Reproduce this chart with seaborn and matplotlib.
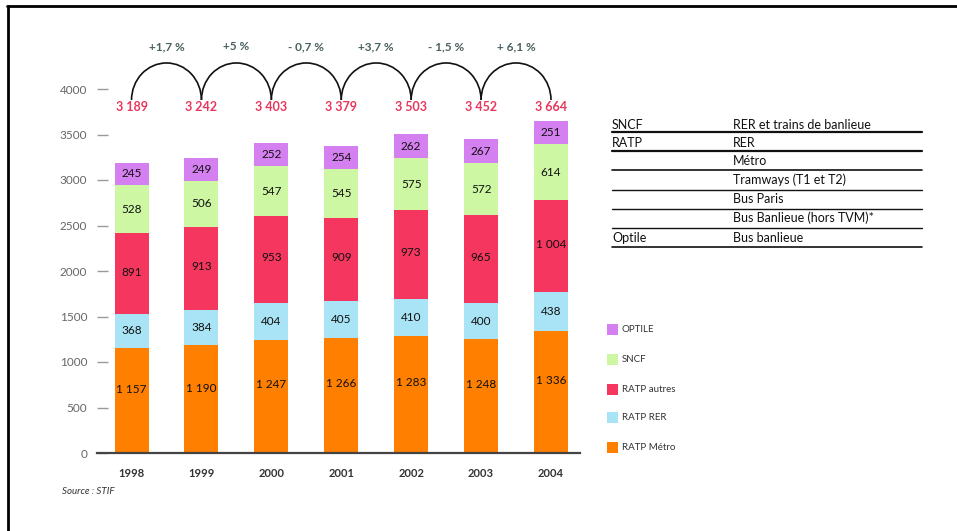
import matplotlib
matplotlib.use("Agg")
import matplotlib.pyplot as plt
import seaborn as sns
import pandas as pd
import numpy as np
from matplotlib.patches import Arc, Rectangle
from matplotlib.lines import Line2D

# ---------------- data ----------------
years = ["1998", "1999", "2000", "2001", "2002", "2003", "2004"]
ratp_metro = [1157, 1190, 1247, 1266, 1283, 1248, 1336]
ratp_rer = [368, 384, 404, 405, 410, 400, 438]
ratp_autres = [891, 913, 953, 909, 973, 965, 1004]
sncf = [528, 506, 547, 545, 575, 572, 614]
optile = [245, 249, 252, 254, 262, 267, 251]
totals = [3189, 3242, 3403, 3379, 3503, 3452, 3664]
growth = ["+1,7 %", "+5 %", "- 0,7 %", "+3,7 %", "- 1,5 %", "+ 6,1 %"]
series_names = ["RATP Métro", "RATP RER", "RATP autres", "SNCF", "OPTILE"]
series_values = [ratp_metro, ratp_rer, ratp_autres, sncf, optile]
colors = ["#ff7f00", "#a8e4f5", "#f5375f", "#cdf7a2", "#d580f0"]
yticks = [0, 500, 1000, 1500, 2000, 2500, 3000, 3500, 4000]
table_left = ["SNCF", "RATP", "", "", "", "", "Optile"]
table_right = ["RER et trains de banlieue", "RER", "Métro", "Tramways (T1 et T2)",
               "Bus Paris", "Bus Banlieue (hors TVM)*", "Bus banlieue"]
source = "Source : STIF"

# ---------------- figure ----------------
sns.set_theme(style="white")
plt.rcParams["font.family"] = ["Lato", "DejaVu Sans"]

W, H = 957, 531
fig = plt.figure(figsize=(W / 100, H / 100), dpi=100)
fig.patch.set_facecolor("white")

def fx(px):
    return px / W

def fy(py):
    return 1 - py / H

ax_left, ax_right, ax_top, ax_bottom = 97, 580, 89, 453
ax = fig.add_axes([fx(ax_left), fy(ax_bottom), (ax_right - ax_left) / W, (ax_bottom - ax_top) / H])
ax.set_facecolor("none")

cum = np.zeros(len(years))
df_cum = pd.DataFrame({"year": years})
for name, vals in zip(series_names, series_values):
    cum = cum + np.array(vals)
    df_cum[name] = cum.copy()

bar_w = 0.486
# draw from top (largest cumulative) down so lower layers overlay
for name, col in reversed(list(zip(series_names, colors))):
    sns.barplot(data=df_cum, x="year", y=name, order=years, color=col,
                saturation=1, width=bar_w, ax=ax, linewidth=0, edgecolor="none")

def fmt(v):
    return f"{v:,}".replace(",", " ")

# segment labels
label_frac = [0.6, 0.5, 0.52, 0.5, 0.5]
below = np.zeros(len(years))
for vals, frac in zip(series_values, label_frac):
    for i, v in enumerate(vals):
        ax.text(i, below[i] + v * frac, fmt(v), ha="center", va="center",
                fontsize=8.5, color="#111111")
    below = below + np.array(vals)

ax.set_xlim(-0.494, 6.415)
ax.set_ylim(0, 4000)
ax.set_xlabel("")
ax.set_ylabel("")
ax.set_yticks(yticks)
ax.set_yticklabels([str(t) for t in yticks])
for s in ["left", "right", "top"]:
    ax.spines[s].set_visible(False)
ax.spines["bottom"].set_color("#444444")
ax.spines["bottom"].set_linewidth(1.6)
ax.tick_params(axis="y", direction="in", length=8, width=1, color="#999999",
               labelcolor="#666666", labelsize=8.5, pad=7, left=True)
ax.tick_params(axis="x", length=0, labelsize=8, labelcolor="#333333", pad=11)
for lab in ax.get_xticklabels():
    lab.set_fontweight("bold")

# totals
for i, t in enumerate(totals):
    ax.text(i, 3800, fmt(t), ha="center", va="center", fontsize=9,
            color="#e8365d", fontweight="bold", clip_on=False)

# arcs and growth
for i, g in enumerate(growth):
    arc = Arc((i + 0.5, 3879), width=1.0, height=2 * 407, theta1=0, theta2=180,
              color="#111111", lw=1.2, clip_on=False)
    ax.add_patch(arc)
    ax.text(i + 0.5, 4462, g, ha="center", va="center", fontsize=8.5,
            color="#4a5f5f", fontweight="bold", clip_on=False)

# legend (manual)
leg_rows = [("OPTILE", 329), ("SNCF", 359), ("RATP autres", 389), ("RATP RER", 417), ("RATP Métro", 447)]
color_map = dict(zip(series_names, colors))
for name, py in leg_rows:
    fig.patches.append(Rectangle((fx(607), fy(py + 6)), 11 / W, 11 / H,
                                 transform=fig.transFigure, facecolor=color_map[name],
                                 edgecolor="none"))
    fig.text(fx(622), fy(py), name, ha="left", va="center", fontsize=7, color="#333333")

# table
row_y = [125, 143, 161, 180, 199, 218, 238]
line_y = [132, 151, 170, 190, 209, 228, 247]
line_w = [1.6, 1.6, 1.2, 1.0, 1.0, 1.0, 1.2]
for ly, lt, rt, ln, lw in zip(row_y, table_left, table_right, line_y, line_w):
    if lt:
        fig.text(fx(612), fy(ly), lt, ha="left", va="center", fontsize=9, color="#111111")
    fig.text(fx(733), fy(ly), rt, ha="left", va="center", fontsize=9, color="#111111")
    fig.add_artist(Line2D([fx(612), fx(922)], [fy(ln), fy(ln)], transform=fig.transFigure,
                          color="#111111", lw=lw))

# source
fig.text(fx(62), fy(492), source, ha="left", va="center", fontsize=7,
         color="#333333", style="italic")

# frame (top & left)
fig.add_artist(Line2D([fx(7), fx(957)], [fy(6), fy(6)], transform=fig.transFigure,
                      color="black", lw=2))
fig.add_artist(Line2D([fx(8), fx(8)], [fy(6), fy(531)], transform=fig.transFigure,
                      color="black", lw=2))

fig.savefig("out.png", dpi=100, facecolor="white")
